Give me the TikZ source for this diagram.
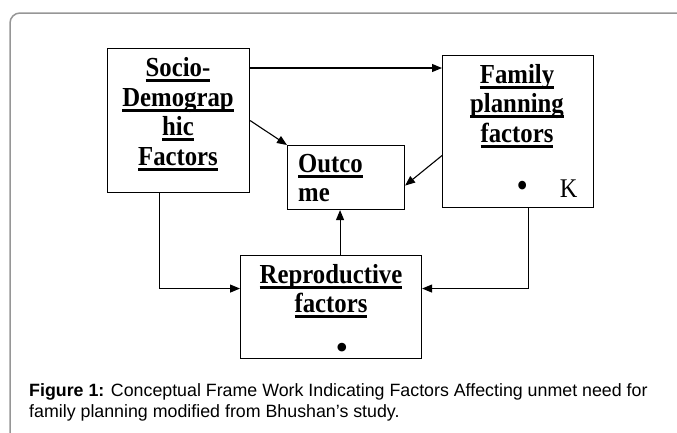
\documentclass[tikz,border=0pt]{standalone}
\usepackage{fontspec}
\setmainfont{Liberation Serif}
\newfontfamily\boxfont[FakeStretch=0.9]{Liberation Serif}
\newfontfamily\capfont{Liberation Sans}
\usetikzlibrary{arrows.meta,calc}
\newcommand\ulx[1]{\setbox0=\hbox{#1}\rlap{\rule[-5.5pt]{\wd0}{2.8pt}}\box0}
\definecolor{framegray}{RGB}{150,150,150}
\tikzset{
  boxnode/.style={draw=black,line width=1.1pt,inner sep=0pt,anchor=north west},
  boxtext/.style={font=\boxfont\bfseries\fontsize{27.5}{29.5}\selectfont,align=center,inner sep=0pt},
  bulletmark/.style={font=\fontsize{36}{36}\selectfont,inner sep=0pt},
  arr/.style={line width=1.1pt,-{Triangle[length=10pt,width=8pt]}},
  captext/.style={font=\capfont\fontsize{17.8}{21}\selectfont,align=left,anchor=north west,inner sep=0pt}
}
\begin{document}
\begin{tikzpicture}[x=1pt,y=-1pt]
\useasboundingbox (0,0) rectangle (677,432);
\draw[framegray,line width=1.5pt,rounded corners=10pt] (10,13) rectangle (700,460);
% boxes
\node[boxnode,minimum width=142pt,minimum height=144pt] (socio) at (107,48) {};
\node[boxnode,minimum width=151pt,minimum height=152pt] (fam) at (442,55) {};
\node[boxnode,minimum width=117pt,minimum height=64pt] (out) at (287,145) {};
\node[boxnode,minimum width=181pt,minimum height=103pt] (rep) at (240,255) {};
% texts
\node[boxtext] (sociot) at (178,114) {\ulx{Socio-}\\\ulx{Demograp}\\\ulx{hic}\\\ulx{Factors}};
\node[boxtext] (famt) at (517,106) {\ulx{Family}\\\ulx{planning}\\\ulx{factors}};
\node[font=\boxfont\fontsize{27}{29}\selectfont,inner sep=0pt,anchor=base] (famk) at (547,197) {{\fontsize{36}{36}\selectfont•}\hspace{32pt}K};
\node[boxtext,align=left,anchor=west] (outt) at (298,178) {\ulx{Outco}\\me};
\node[boxtext] (rept) at (331,291) {\ulx{Reproductive}\\\ulx{factors}};
\node[bulletmark,anchor=base] (repb) at (342,359) {•};
% connectors
\draw[arr] ([yshift=-20pt]socio.north east) -- ([yshift=-20pt]socio.north east -| fam.west);
\draw[arr] (socio.east) -- (out.north west);
\draw[arr] ([yshift=-24pt]fam.west) -- ([yshift=-8pt]out.east);
\coordinate (ro) at ([xshift=-6pt]out.south);
\draw[arr] (ro |- rep.north) -- (ro);
\coordinate (sd) at ([xshift=-19pt]socio.south);
\coordinate (rw) at ([yshift=18.5pt]rep.west);
\draw[arr] (sd) |- (rw);
\coordinate (fd) at ([xshift=10.5pt]fam.south);
\coordinate (re) at ([yshift=18.5pt]rep.east);
\draw[arr] (fd) |- (re);
% caption
\node[captext] (cap) at (29,383) {\textbf{Figure 1:} Conceptual Frame Work Indicating Factors Affecting unmet need for\\family planning modified from Bhushan’s study.};
\end{tikzpicture}
\end{document}
